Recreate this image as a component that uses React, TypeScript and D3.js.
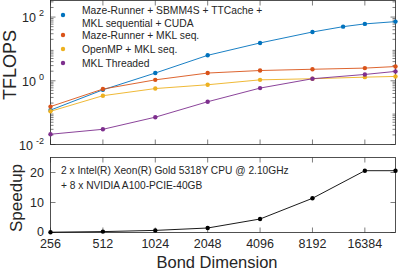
import React, { useEffect, useRef } from "react";
import * as d3 from "d3";

// bond dimensions
const dims = [256, 512, 1024, 2048, 4096, 8192, 16384, 24576];
const dimsGpu = [256, 512, 1024, 2048, 4096, 8192, 12288, 16384, 24576];
const tickDims = [256, 512, 1024, 2048, 4096, 8192, 16384];

// TFLOPS per setup
const gpuFlops = [0.12, 0.52, 1.75, 6.3, 15.4, 34, 50, 61, 72];
const mazeFlops = [0.155, 0.55, 1.07, 1.75, 2.1, 2.3, 2.5, 2.8];
const openmpFlops = [0.11, 0.34, 0.57, 0.75, 1.07, 1.16, 1.3, 1.37];
const threadedFlops = [0.021, 0.03, 0.072, 0.22, 0.59, 1.16, 1.58, 1.97];

const speedup = [0.1, 0.3, 0.7, 1.5, 4.5, 11.4, 20.6, 20.6];

const legendLabels = [
  ["Maze-Runner + SBMM4S + TTCache +", "MKL sequential + CUDA"],
  ["Maze-Runner + MKL seq."],
  ["OpenMP + MKL seq."],
  ["MKL Threaded"],
];
const colors = ["#0072BD", "#D95319", "#EDB120", "#7E2F8E"];

export default function App() {
  const ref = useRef<SVGSVGElement>(null);

  useEffect(() => {
    const svg = d3.select(ref.current);
    svg.selectAll("*").remove();
    const axisColor = "#262626";
    const font = "Liberation Sans, Arial, sans-serif";
    const left = 50.5, right = 395.5;

    const x = d3.scaleLog().base(2).domain([256, 24576]).range([left, right]);

    // ---------- top plot
    const top = 0.5, bottom = 144.5;
    const y = d3.scaleLog().domain([1e-2, Math.pow(10, 2.52)]).range([bottom, top]);

    const g = svg.append("g");
    // minor ticks
    const minor: number[] = [];
    for (let e = -2; e <= 2; e++) for (let m = 2; m <= 9; m++) {
      const v = m * Math.pow(10, e);
      if (v < Math.pow(10, 2.52)) minor.push(v);
    }
    minor.forEach((v) => {
      g.append("line").attr("x1", left).attr("x2", left + 3).attr("y1", y(v)).attr("y2", y(v)).attr("stroke", axisColor).attr("stroke-width", 0.6);
      g.append("line").attr("x1", right).attr("x2", right - 3).attr("y1", y(v)).attr("y2", y(v)).attr("stroke", axisColor).attr("stroke-width", 0.6);
    });
    [1e-2, 1, 100].forEach((v, i) => {
      g.append("line").attr("x1", left).attr("x2", left + 5).attr("y1", y(v)).attr("y2", y(v)).attr("stroke", axisColor).attr("stroke-width", 0.6);
      g.append("line").attr("x1", right).attr("x2", right - 5).attr("y1", y(v)).attr("y2", y(v)).attr("stroke", axisColor).attr("stroke-width", 0.6);
      const t = g.append("text").attr("x", 44).attr("y", y(v) + 5).attr("text-anchor", "end")
        .attr("font-family", font).attr("font-size", 12.5).attr("fill", axisColor);
      t.append("tspan").text("10");
      t.append("tspan").text(["-2", "0", "2"][i]).attr("font-size", 9).attr("dx", 3).attr("dy", -6);
    });
    tickDims.forEach((d) => {
      g.append("line").attr("x1", x(d)).attr("x2", x(d)).attr("y1", bottom).attr("y2", bottom - 5).attr("stroke", axisColor).attr("stroke-width", 0.6);
      g.append("line").attr("x1", x(d)).attr("x2", x(d)).attr("y1", top).attr("y2", top + 5).attr("stroke", axisColor).attr("stroke-width", 0.6);
    });
    g.append("rect").attr("x", left).attr("y", top).attr("width", right - left).attr("height", bottom - top)
      .attr("fill", "none").attr("stroke", axisColor).attr("stroke-width", 0.8);

    const series = [
      { xs: dimsGpu, ys: gpuFlops },
      { xs: dims, ys: mazeFlops },
      { xs: dims, ys: openmpFlops },
      { xs: dims, ys: threadedFlops },
    ];
    series.forEach((s, i) => {
      const pts = s.xs.map((d, j) => [x(d), y(s.ys[j])] as [number, number]);
      g.append("path").attr("d", d3.line()(pts)).attr("fill", "none").attr("stroke", colors[i]).attr("stroke-width", 0.9);
      g.selectAll(null).data(pts).enter().append("circle")
        .attr("cx", (p) => p[0]).attr("cy", (p) => p[1]).attr("r", 2.2).attr("fill", colors[i]);
    });

    // legend
    const rows = [15, 35, 49, 63];
    legendLabels.forEach((lines, i) => {
      g.append("circle").attr("cx", 63).attr("cy", rows[i]).attr("r", 2.2).attr("fill", colors[i]);
      lines.forEach((txt, k) => {
        g.append("text").attr("x", 82).attr("y", (i === 0 ? 10 + k * 13.5 : rows[i]) + 3.7)
          .attr("font-family", font).attr("font-size", 10.3).attr("fill", axisColor).text(txt);
      });
    });

    g.append("text").attr("transform", `translate(16,65) rotate(-90)`)
      .attr("text-anchor", "middle").attr("font-family", font).attr("font-size", 18).attr("fill", axisColor).text("TFLOPS");

    // ---------- bottom plot
    const top2 = 157.5, bottom2 = 232.5;
    const y2 = d3.scaleLinear().domain([0, 25]).range([bottom2, top2]);
    const b = svg.append("g");
    [0, 10, 20].forEach((v) => {
      b.append("line").attr("x1", left).attr("x2", left + 5).attr("y1", y2(v)).attr("y2", y2(v)).attr("stroke", axisColor).attr("stroke-width", 0.6);
      b.append("line").attr("x1", right).attr("x2", right - 5).attr("y1", y2(v)).attr("y2", y2(v)).attr("stroke", axisColor).attr("stroke-width", 0.6);
      b.append("text").attr("x", 44).attr("y", y2(v) + (v === 0 ? 3 : 4.5)).attr("text-anchor", "end")
        .attr("font-family", font).attr("font-size", 12.5).attr("fill", axisColor).text(v);
    });
    tickDims.forEach((d) => {
      b.append("line").attr("x1", x(d)).attr("x2", x(d)).attr("y1", bottom2).attr("y2", bottom2 - 5).attr("stroke", axisColor).attr("stroke-width", 0.6);
      b.append("line").attr("x1", x(d)).attr("x2", x(d)).attr("y1", top2).attr("y2", top2 + 5).attr("stroke", axisColor).attr("stroke-width", 0.6);
      b.append("text").attr("x", x(d)).attr("y", 248).attr("text-anchor", "middle")
        .attr("font-family", font).attr("font-size", 12.5).attr("fill", axisColor).text(d);
    });
    b.append("rect").attr("x", left).attr("y", top2).attr("width", right - left).attr("height", bottom2 - top2)
      .attr("fill", "none").attr("stroke", axisColor).attr("stroke-width", 0.8);

    const spts = dims.map((d, j) => [x(d), y2(speedup[j])] as [number, number]);
    b.append("path").attr("d", d3.line()(spts)).attr("fill", "none").attr("stroke", "#000").attr("stroke-width", 0.9);
    b.selectAll(null).data(spts).enter().append("circle")
      .attr("cx", (p) => p[0]).attr("cy", (p) => p[1]).attr("r", 2.2).attr("fill", "#000");

    b.append("text").attr("x", 61).attr("y", 173.5).attr("font-family", font).attr("font-size", 10.2).attr("fill", axisColor)
      .text("2 x Intel(R) Xeon(R) Gold 5318Y CPU @ 2.10GHz");
    b.append("text").attr("x", 61).attr("y", 188.5).attr("font-family", font).attr("font-size", 10.2).attr("fill", axisColor)
      .text("+ 8 x NVIDIA A100-PCIE-40GB");

    b.append("text").attr("transform", `translate(22,198) rotate(-90)`)
      .attr("text-anchor", "middle").attr("font-family", font).attr("font-size", 17).attr("fill", axisColor).text("Speedup");
    b.append("text").attr("x", 217).attr("y", 267.5).attr("text-anchor", "middle")
      .attr("font-family", font).attr("font-size", 16.5).attr("fill", axisColor).text("Bond Dimension");
  }, []);

  return (
    <svg ref={ref} width={399} height={269} style={{ position: "absolute", left: 0, top: 0, background: "#fff" }} />
  );
}
